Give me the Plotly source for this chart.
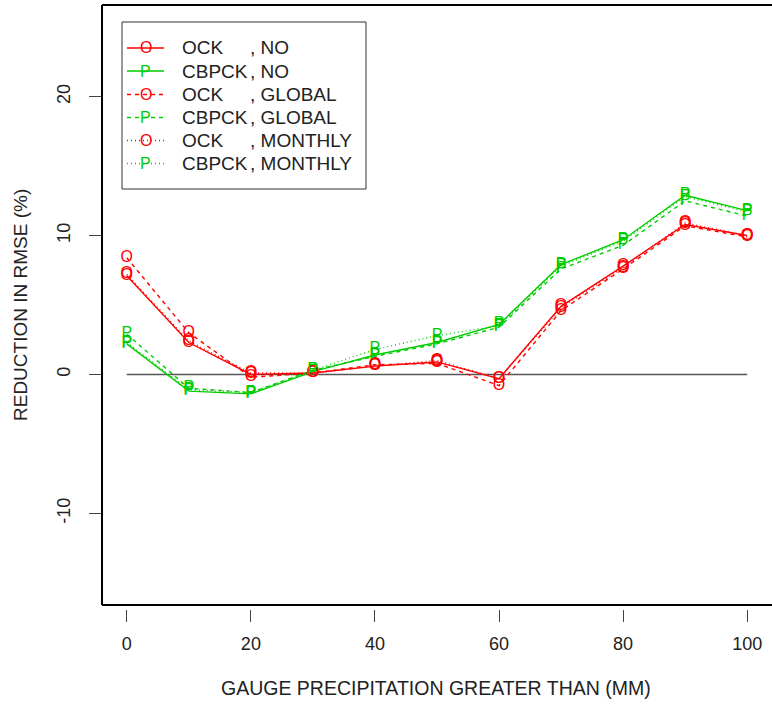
import plotly.graph_objects as go

# Threshold of gauge precipitation (mm)
thresholds = [0, 10, 20, 30, 40, 50, 60, 70, 80, 90, 100]

# Reduction in RMSE (%) per method / bias-correction variant
ock_no = [7.1, 2.3, 0.0, 0.1, 0.6, 0.9, -0.3, 4.9, 7.8, 10.8, 10.0]
cbpck_no = [2.2, -1.2, -1.4, 0.2, 1.4, 2.3, 3.6, 7.9, 9.7, 12.9, 11.8]
ock_global = [8.4, 3.0, -0.2, 0.1, 0.7, 0.8, -0.8, 4.6, 7.6, 10.7, 9.9]
cbpck_global = [2.9, -1.0, -1.3, 0.3, 1.3, 2.2, 3.4, 7.6, 9.3, 12.5, 11.4]
ock_monthly = [7.2, 2.4, 0.1, 0.1, 0.6, 1.0, -0.3, 4.8, 7.7, 10.9, 10.0]
cbpck_monthly = [2.3, -1.1, -1.3, 0.3, 1.8, 2.8, 3.5, 7.8, 9.6, 12.8, 11.7]

x_ticks = [0, 20, 40, 60, 80, 100]
y_ticks = [-10, 0, 10, 20]

RED = "#FF0000"
GREEN = "#00CD00"
DASHED = "4px,4px"
DOTTED = "1px,3px"
FONT = "Liberation Sans, Arial, Helvetica, sans-serif"
TEXT_COL = "#222222"

series = [
    ("OCK", "NO", ock_no, RED, "solid", "O"),
    ("CBPCK", "NO", cbpck_no, GREEN, "solid", "P"),
    ("OCK", "GLOBAL", ock_global, RED, DASHED, "O"),
    ("CBPCK", "GLOBAL", cbpck_global, GREEN, DASHED, "P"),
    ("OCK", "MONTHLY", ock_monthly, RED, DOTTED, "O"),
    ("CBPCK", "MONTHLY", cbpck_monthly, GREEN, DOTTED, "P"),
]

W, H = 772, 704
ML, MR, MT, MB = 102, 0, 5, 95
PW, PH = W - ML - MR, H - MT - MB


def px_x(p):
    return (p - ML) / PW


def px_y(p):
    return (H - MB - p) / PH


fig = go.Figure()

# reference line at zero
fig.add_trace(go.Scatter(x=[0, 100], y=[0, 0], mode="lines",
                         line=dict(color="#555555", width=1.5),
                         hoverinfo="skip", showlegend=False))

for name, corr, vals, col, dash, sym in series:
    fig.add_trace(go.Scatter(
        x=thresholds, y=vals, mode="lines+text",
        text=[sym] * len(vals), textposition="middle center",
        textfont=dict(family=FONT, size=16, color=col),
        line=dict(color=col, width=1.4, dash=dash),
        name=f"{name}, {corr}", showlegend=False,
    ))

shapes = []
annotations = []

# plot frame (left, top, bottom)
frame = dict(type="line", xref="paper", yref="paper", line=dict(color="black", width=2))
bottom_y = px_y(605)
shapes.append(dict(frame, x0=0, x1=0, y0=bottom_y, y1=1))
shapes.append(dict(frame, x0=0, x1=1.01, y0=1, y1=1))
shapes.append(dict(frame, x0=0, x1=1.01, y0=bottom_y, y1=bottom_y))

# legend box
shapes.append(dict(type="rect", xref="paper", yref="paper",
                   x0=px_x(122), x1=px_x(366), y0=px_y(189), y1=px_y(22),
                   line=dict(color="#333333", width=1), fillcolor="white"))

row_y = [48, 71, 94.5, 117.5, 140.5, 163.5]
for (name, corr, vals, col, dash, sym), ry in zip(series, row_y):
    shapes.append(dict(type="line", xref="paper", yref="paper",
                       x0=px_x(127), x1=px_x(164), y0=px_y(ry), y1=px_y(ry),
                       line=dict(color=col, width=1.4, dash=dash)))
    annotations.append(dict(xref="paper", yref="paper", x=px_x(145.5), y=px_y(ry),
                            text=sym, showarrow=False, xanchor="center", yanchor="middle",
                            font=dict(family=FONT, size=16, color=col)))
    annotations.append(dict(xref="paper", yref="paper", x=px_x(180), y=px_y(ry),
                            text=name, showarrow=False, xanchor="left", yanchor="middle",
                            font=dict(family=FONT, size=19, color=TEXT_COL)))
    annotations.append(dict(xref="paper", yref="paper", x=px_x(248), y=px_y(ry),
                            text=f", {corr}", showarrow=False, xanchor="left", yanchor="middle",
                            font=dict(family=FONT, size=19, color=TEXT_COL)))

# axis titles
annotations.append(dict(xref="paper", yref="paper", x=px_x(436), y=px_y(688),
                        text="GAUGE PRECIPITATION GREATER THAN (MM)", showarrow=False,
                        xanchor="center", yanchor="middle",
                        font=dict(family=FONT, size=19.5, color=TEXT_COL)))
annotations.append(dict(xref="paper", yref="paper", x=px_x(20), y=px_y(305),
                        text="REDUCTION IN RMSE (%)", showarrow=False, textangle=-90,
                        xanchor="center", yanchor="middle",
                        font=dict(family=FONT, size=19, color=TEXT_COL)))

fig.update_layout(
    width=W, height=H,
    margin=dict(l=ML, r=MR, t=MT, b=MB, pad=0),
    paper_bgcolor="white", plot_bgcolor="white",
    shapes=shapes, annotations=annotations,
    xaxis=dict(range=[-4, 104], tickvals=x_ticks, ticktext=[str(v) for v in x_ticks],
               showgrid=False, zeroline=False, showline=False,
               ticks="outside", ticklen=12, tickcolor="#444444", tickwidth=1,
               anchor="free", position=0, ticklabelstandoff=6,
               tickfont=dict(family=FONT, size=18, color=TEXT_COL)),
    yaxis=dict(range=[-16.6, 26.6], tickvals=y_ticks, ticktext=[str(v) for v in y_ticks],
               domain=[px_y(605), 1],
               showgrid=False, zeroline=False, showline=False,
               ticks="outside", ticklen=12, tickcolor="#444444", tickwidth=1,
               tickangle=-90, ticklabelstandoff=12,
               tickfont=dict(family=FONT, size=18, color=TEXT_COL)),
)

fig.write_html("out.html")
